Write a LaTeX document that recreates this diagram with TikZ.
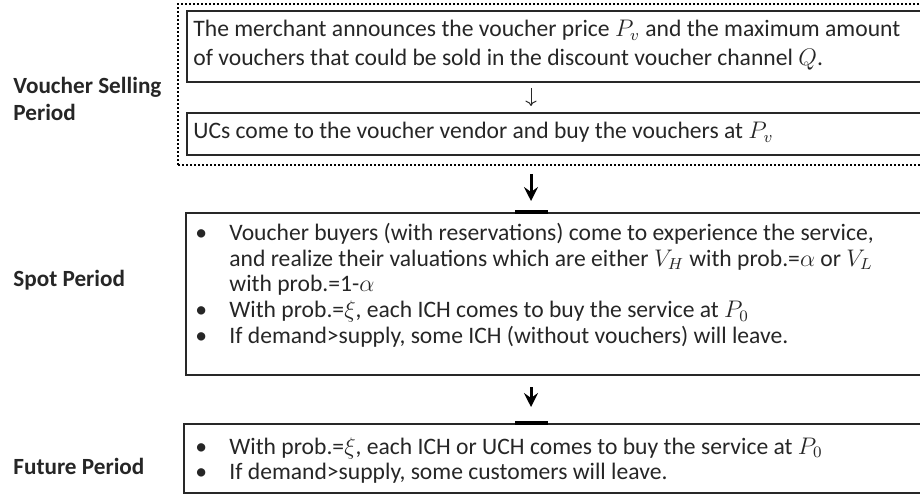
\documentclass[tikz,border=0pt]{standalone}
\usepackage{fontspec}
\setmainfont{Carlito}
\usetikzlibrary{arrows.meta}
\definecolor{mytext}{RGB}{38,38,38}
\definecolor{myline}{RGB}{40,40,40}
\newcommand{\listbullet}{\makebox[17pt][l]{\textbullet}}
\newcommand{\listgap}{\hspace*{17pt}}
\newcommand{\tightlines}{\setlength{\lineskiplimit}{-5pt}}

\begin{document}
\begin{tikzpicture}[x=0.5pt,y=-0.5pt,
    stagebox/.style={draw=myline, line width=1pt, minimum width=380pt, anchor=north west, inner sep=0pt},
    phase/.style={font=\fontsize{11.6}{13.4}\selectfont\bfseries, text=mytext, align=left, inner sep=0pt},
    boxtext/.style={font=\fontsize{11.8}{14.5}\selectfont\tightlines, text=mytext, align=left, anchor=north west, inner sep=0pt},
    listtext/.style={boxtext, font=\fontsize{11.8}{12.8}\selectfont\tightlines},
    bigarrow/.style={draw=black, line width=1.5pt, -{Stealth[length=7pt,width=7pt,inset=2.5pt]}},
    joint/.style={line width=2.2pt, black}]

    \path[use as bounding box] (0,0) rectangle (920,497);
    \clip (0,0) rectangle (920,497);

    % period names
    \node[phase, anchor=north west] (vsname) at (13,77) {Voucher Selling\\Period};
    \node[phase, anchor=base west] (spotname) at (13,286) {Spot Period};
    \node[phase, anchor=base west] (futname) at (13,474) {Future Period};

    % voucher selling period
    \node[stagebox, draw=black, densely dotted, minimum width=390pt, minimum height=80.5pt] (selling) at (177,3) {};
    \node[stagebox, minimum height=35.5pt] (announce) at (186,10) {};
    \node[boxtext] (announcetext) at (193,20) {The merchant announces the voucher price $P_v$ and the maximum amount\\of vouchers that could be sold in the discount voucher channel $Q$.};
    \node[stagebox, minimum height=21pt] (ucs) at (186,112) {};
    \node[boxtext] (ucstext) at (193,122) {UCs come to the voucher vendor and buy the vouchers at $P_v$};

    % spot period
    \node[stagebox, minimum height=81pt] (spot) at (185,212) {};
    \node[listtext] (spottext) at (195,223) {\listbullet Voucher buyers (with reservations) come to experience the service,\\
        \listgap and realize their valuations which are either $V_H$ with prob.=$\alpha$ or $V_L$\\
        \listgap with prob.=1-$\alpha$\\
        \listbullet With prob.=$\xi$, each ICH comes to buy the service at $P_0$\\
        \listbullet If demand>supply, some ICH (without vouchers) will leave.};

    % future period
    \node[stagebox, minimum height=34.5pt] (future) at (183,423) {};
    \node[listtext] (futtext) at (195,437) {\listbullet With prob.=$\xi$, each ICH or UCH comes to buy the service at $P_0$\\
        \listbullet If demand>supply, some customers will leave.};

    \coordinate (flow) at (531,0);
    \draw[->, myline, line width=0.5pt, shorten <=2.5pt, shorten >=3pt] (announce.south -| flow) -- (ucs.north -| flow);
    \draw[bigarrow, shorten <=4pt, shorten >=5.5pt] (selling.south -| flow) -- (spot.north -| flow);
    \draw[joint] ([xshift=-8pt]spot.north -| flow) -- ([xshift=8.5pt]spot.north -| flow);
    \draw[bigarrow, shorten <=5.5pt, shorten >=8pt] (spot.south -| flow) -- (future.north -| flow);
    \draw[joint] ([xshift=-8pt]future.north -| flow) -- ([xshift=8.5pt]future.north -| flow);
\end{tikzpicture}
\end{document}
